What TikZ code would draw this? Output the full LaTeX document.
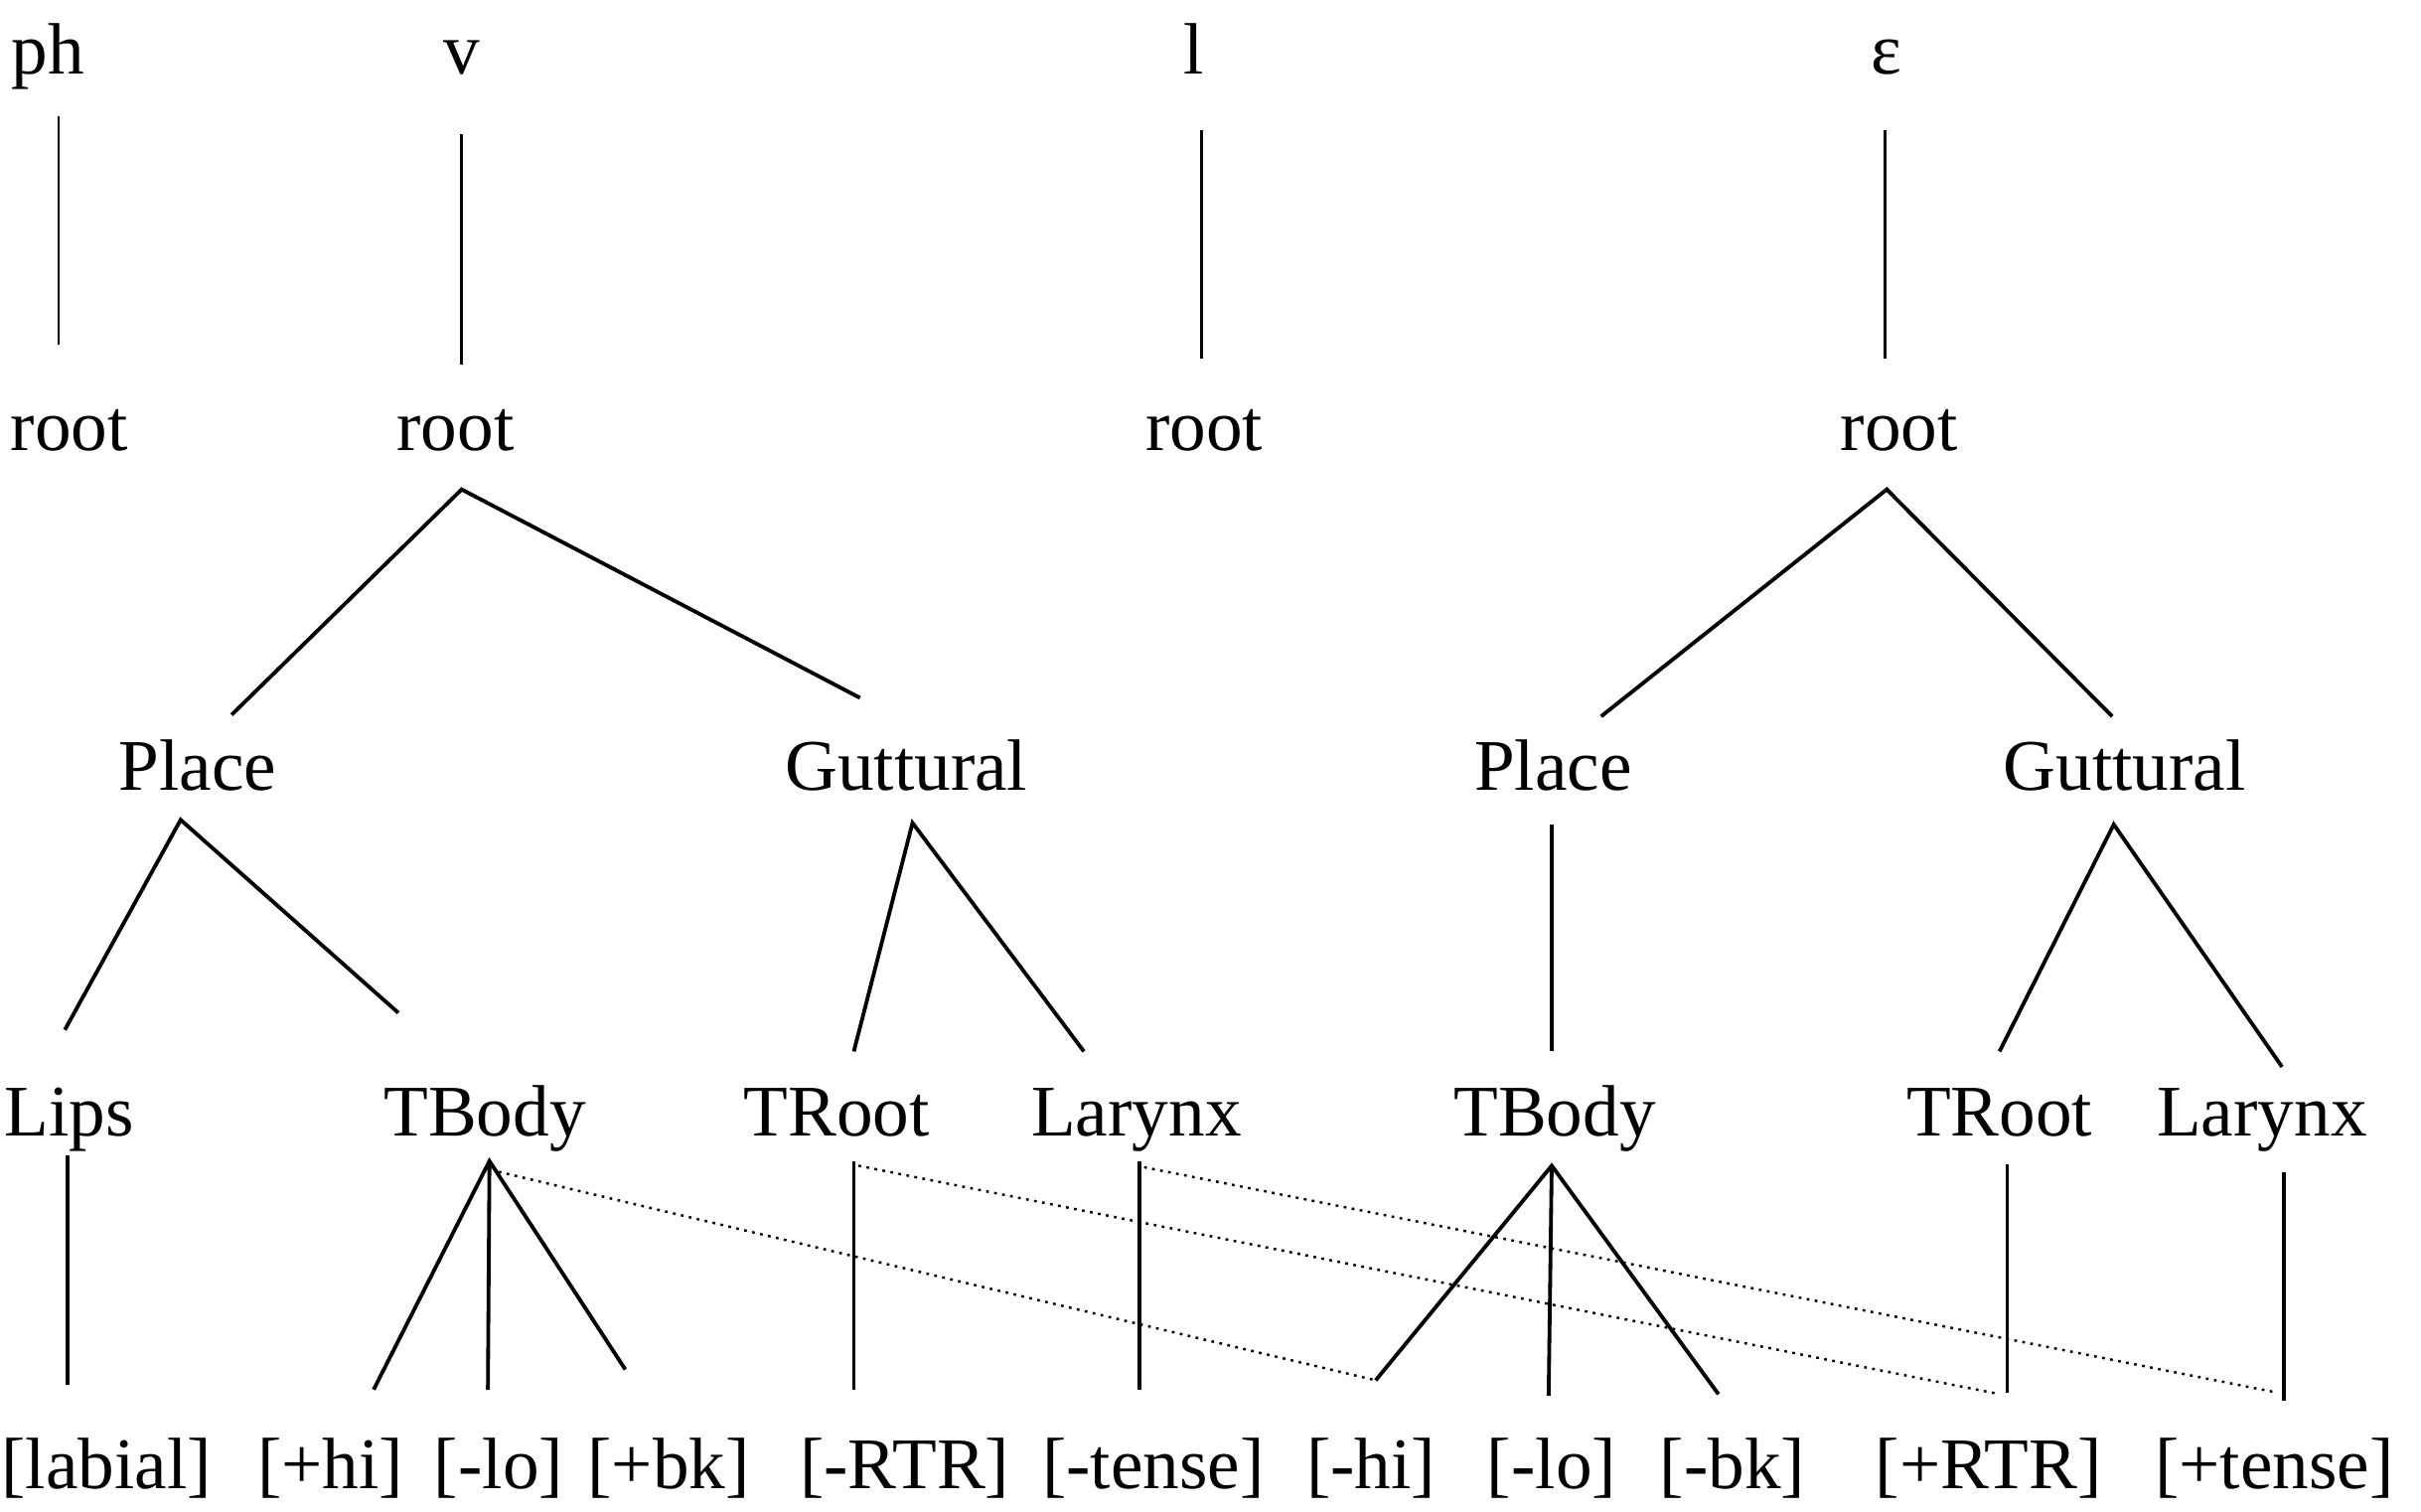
\documentclass[tikz,border=0pt]{standalone}
\usepackage{fontspec}
\setmainfont{Liberation Serif}
\usepackage{tikz}
\usetikzlibrary{calc}

\begin{document}
\begin{tikzpicture}[
      x=0.1mm, y=-0.1mm,
      txt/.style={
            inner sep=0pt, anchor=base,
            font=\fontsize{13.4}{16}\selectfont
        },
      tie/.style={line width=0.7pt},
      thintie/.style={line width=0.5pt},
      assoc/.style={line width=0.45pt, dash pattern=on 0.5pt off 1pt}
      ]
    \useasboundingbox (0,0) rectangle (1568,979);

    % segments
    \node[txt] (ph)  at (31,48)   {ph};
    \node[txt] (v)   at (299,48)  {v};
    \node[txt] (l)   at (773,48)  {l};
    \node[txt] (eps) at (1222,48) {ε};

    % roots
    \node[txt] (r1) at (45,292)   {root};
    \node[txt] (r2) at (295,292)  {root};
    \node[txt] (r3) at (780,292)  {root};
    \node[txt] (r4) at (1230,292) {root};

    \node[txt] (placeA) at (128,512)  {Place};
    \node[txt] (gutA)   at (587,512)  {Guttural};
    \node[txt] (placeB) at (1006,512) {Place};
    \node[txt] (gutB)   at (1376,512) {Guttural};

    \node[txt] (lipsA)   at (45,736)   {Lips};
    \node[txt] (tbodyA)  at (314,736)  {TBody};
    \node[txt] (trootA)  at (542,736)  {TRoot};
    \node[txt] (larynxA) at (736,736)  {Larynx};
    \node[txt] (tbodyB)  at (1007,736) {TBody};
    \node[txt] (trootB)  at (1295,736) {TRoot};
    \node[txt] (larynxB) at (1465,736) {Larynx};

    % features
    \node[txt] (labial) at (69,964)   {[labial]};
    \node[txt] (hiA)    at (214,964)  {[+hi]};
    \node[txt] (loA)    at (323,964)  {[-lo]};
    \node[txt] (bkA)    at (433,964)  {[+bk]};
    \node[txt] (rtrA)   at (586,964)  {[-RTR]};
    \node[txt] (tenseA) at (747,964)  {[-tense]};
    \node[txt] (hiB)    at (888,964)  {[-hi]};
    \node[txt] (loB)    at (1005,964) {[-lo]};
    \node[txt] (bkB)    at (1122,964) {[-bk]};
    \node[txt] (rtrB)   at (1288,964) {[+RTR]};
    \node[txt] (tenseB) at (1473,964) {[+tense]};

    \draw[thintie] ($(ph.base)+(7,27)$) -- ($(r1.base)+(-7,-69)$);
    \draw[thintie] ($(v.base)+(0,39)$) -- ($(r2.base)+(4,-56)$);
    \draw[thintie] ($(l.base)+(5,36)$) -- ($(r3.base)+(-2,-60)$);
    \draw[thintie] ($(eps.base)+(-1,36)$) -- ($(r4.base)+(-9,-60)$);

    \draw[tie] ($(placeA.base)+(22,-49)$) -- ($(r2.base)+(4,25)$) -- ($(gutA.base)+(-30,-60)$);
    \draw[tie] ($(placeB.base)+(31,-48)$) -- ($(r4.base)+(-8,25)$) -- ($(gutB.base)+(-8,-48)$);

    \draw[tie] ($(lipsA.base)+(-3,-69)$) -- ($(placeA.base)+(-11,19)$) -- ($(tbodyA.base)+(-56,-80)$);
    \draw[tie] ($(trootA.base)+(11,-55)$) -- ($(gutA.base)+(4,21)$) -- ($(larynxA.base)+(-34,-55)$);
    \draw[tie] ($(placeB.base)+(-1,22)$) -- ($(tbodyB.base)+(-2,-55)$);
    \draw[tie] ($(trootB.base)+(0,-55)$) -- ($(gutB.base)+(-7,22)$) -- ($(larynxB.base)+(13,-45)$);

    \draw[tie] ($(lipsA.base)+(-1,12)$) -- ($(labial.base)+(-25,-67)$);
    \draw[tie] ($(hiA.base)+(28,-64)$) -- ($(tbodyA.base)+(3,16)$) -- ($(bkA.base)+(-28,-77)$);
    \draw[tie] ($(tbodyA.base)+(3,16)$) -- ($(loA.base)+(-7,-64)$);
    \draw[tie] ($(trootA.base)+(11,16)$) -- ($(rtrA.base)+(-33,-64)$);
    \draw[tie] ($(larynxA.base)+(2,16)$) -- ($(tenseA.base)+(-9,-64)$);
    \draw[tie] ($(hiB.base)+(3,-70)$) -- ($(tbodyB.base)+(-2,19)$) -- ($(bkB.base)+(-9,-61)$);
    \draw[tie] ($(tbodyB.base)+(-2,19)$) -- ($(loB.base)+(-2,-60)$);
    \draw[tie] ($(trootB.base)+(5,18)$) -- ($(rtrB.base)+(12,-62)$);
    \draw[tie] ($(larynxB.base)+(14,23)$) -- ($(tenseB.base)+(6,-57)$);

    % spreading
    \draw[assoc] ($(tbodyA.base)+(9,23)$) -- ($(hiB.base)+(3,-70)$);
    \draw[assoc] ($(trootA.base)+(14,19)$) -- ($(rtrB.base)+(7,-61)$);
    \draw[assoc] ($(larynxA.base)+(5,20)$) -- ($(tenseB.base)+(2,-62)$);
  \end{tikzpicture}
\end{document}
